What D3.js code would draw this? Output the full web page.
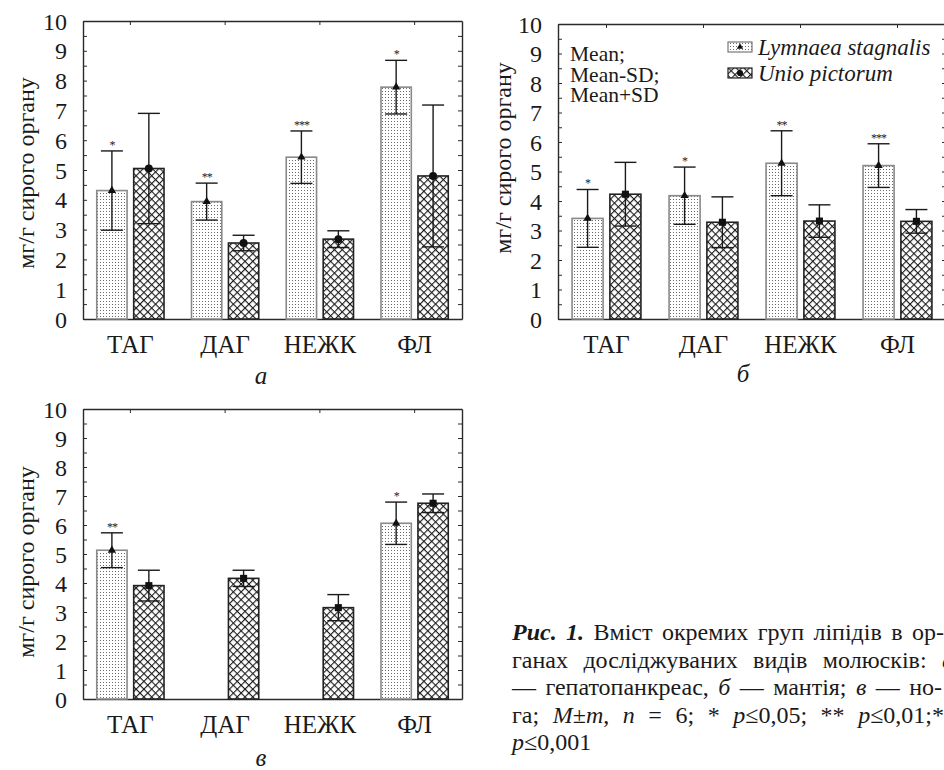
<!DOCTYPE html>
<html><head><meta charset="utf-8">
<script src="https://cdn.jsdelivr.net/npm/d3@7"></script>
<style>
html,body{margin:0;padding:0;background:#fff;}
</style></head>
<body>
<svg id="chart" width="944" height="770"></svg>
<script>
// ---------- data ----------
const categories = ["ТАГ", "ДАГ", "НЕЖК", "ФЛ"];
const yTickValues = [0, 1, 2, 3, 4, 5, 6, 7, 8, 9, 10];
const seriesNames = ["Lymnaea stagnalis", "Unio pictorum"];
const yLabel = "мг/г сирого органу";

// panel а — гепатопанкреас
const lymA = [4.31, 3.94, 5.43, 7.78];
const lymA_sd = [1.33, 0.62, 0.88, 0.90];
const unioA = [5.05, 2.55, 2.68, 4.80];
const unioA_sd = [1.85, 0.26, 0.28, 2.38];
const sigA = ["*", "**", "***", "*"];

// panel б — мантія
const lymB = [3.41, 4.18, 5.28, 5.20];
const lymB_sd = [0.98, 0.97, 1.10, 0.74];
const unioB = [4.23, 3.28, 3.32, 3.31];
const unioB_sd = [1.08, 0.86, 0.55, 0.40];
const sigB = ["*", "*", "**", "***"];

// panel в — нога
const lymC = [5.13, null, null, 6.06];
const lymC_sd = [0.60, null, null, 0.73];
const unioC = [3.91, 4.16, 3.15, 6.75];
const unioC_sd = [0.53, 0.28, 0.45, 0.32];
const sigC = ["**", "", "", "*"];

const legendLines = ["Mean;", "Mean-SD;", "Mean+SD"];

// ---------- drawing ----------
const FONT = '"Liberation Serif", "Times New Roman", serif';
const svg = d3.select("#chart");
const defs = svg.append("defs");

const dots = defs.append("pattern").attr("id", "dots")
  .attr("patternUnits", "userSpaceOnUse").attr("width", 3).attr("height", 3);
dots.append("rect").attr("width", 3).attr("height", 3).attr("fill", "#fff");
dots.append("rect").attr("x", 1).attr("y", 1).attr("width", 1).attr("height", 1).attr("fill", "#6a6a6a");

const hatch = defs.append("pattern").attr("id", "hatch")
  .attr("patternUnits", "userSpaceOnUse").attr("width", 5.5).attr("height", 5.5)
  .attr("patternTransform", "rotate(45)");
hatch.append("rect").attr("width", 5.5).attr("height", 5.5).attr("fill", "#fff");
hatch.append("line").attr("x1", 0).attr("y1", 0).attr("x2", 5.5).attr("y2", 0)
  .attr("stroke", "#1a1a1a").attr("stroke-width", 2.2);
hatch.append("line").attr("x1", 0).attr("y1", 0).attr("x2", 0).attr("y2", 5.5)
  .attr("stroke", "#1a1a1a").attr("stroke-width", 2.2);

const panels = [
  {box: [83, 462, 21, 319], lym: lymA, lymSd: lymA_sd, unio: unioA, unioSd: unioA_sd, sig: sigA,
   label: "а", labelPos: [261, 384], yLab: [26, 173], unioSym: d3.symbolCircle},
  {box: [558, 946, 24, 319], lym: lymB, lymSd: lymB_sd, unio: unioB, unioSd: unioB_sd, sig: sigB,
   label: "б", labelPos: [743, 382], yLab: [503, 158], unioSym: d3.symbolSquare, legend: true},
  {box: [83, 462, 409, 699], lym: lymC, lymSd: lymC_sd, unio: unioC, unioSd: unioC_sd, sig: sigC,
   label: "в", labelPos: [261, 766], yLab: [26, 562], unioSym: d3.symbolSquare}
];

const halfTicks = d3.range(0, 10.01, 0.5);

panels.forEach(p => {
  const [x0, x1, yt, yb] = p.box;
  const g = svg.append("g");
  const x = d3.scaleBand().domain(categories).range([x0, x1]).padding(0);
  const y = d3.scaleLinear().domain([0, 10]).range([yb, yt]);
  const bw = x.bandwidth();
  const barW = bw * 0.32;
  const off = bw * 0.195;

  const left = d3.axisLeft(y).tickValues(halfTicks).tickSizeInner(-4).tickSizeOuter(0).tickPadding(16)
    .tickFormat(d => yTickValues.includes(d) ? d : "");
  const gl = g.append("g").attr("transform", `translate(${x0},0)`).call(left);
  gl.attr("font-family", FONT);
  gl.selectAll("text").attr("font-family", FONT).style("font-family", FONT).style("font-size", "24px").attr("fill", "#1a1a1a").attr("dy", "0.34em");
  const right = d3.axisRight(y).tickValues(halfTicks).tickSizeInner(-4).tickSizeOuter(0).tickFormat("");
  g.append("g").attr("transform", `translate(${x1},0)`).call(right);
  const top = d3.axisTop(x).tickSizeInner(-4).tickSizeOuter(0).tickFormat("");
  g.append("g").attr("transform", `translate(0,${yt})`).call(top);
  const bottom = d3.axisBottom(x).tickSize(0).tickSizeOuter(0).tickPadding(16);
  const gb = g.append("g").attr("transform", `translate(0,${yb})`).call(bottom);
  gb.attr("font-family", FONT);
  gb.selectAll("text").attr("font-family", FONT).style("font-family", FONT).style("font-size", "25px").attr("fill", "#1a1a1a").attr("dy", "0.71em");
  g.selectAll(".domain").attr("stroke", "#2a2a2a").attr("stroke-width", 1.4);
  g.selectAll(".tick line").attr("stroke", "#2a2a2a").attr("stroke-width", 1);

  const groups = [
    {vals: p.lym, sds: p.lymSd, dx: -off, fill: "url(#dots)", stroke: "#8a8a8a", sym: d3.symbolTriangle, symSize: 30, sig: p.sig},
    {vals: p.unio, sds: p.unioSd, dx: off, fill: "url(#hatch)", stroke: "#222", sym: p.unioSym, symSize: 50, sig: null}
  ];
  groups.forEach(s => {
    const data = categories.map((c, i) => ({c, v: s.vals[i], sd: s.sds[i], sig: s.sig ? s.sig[i] : ""}))
      .filter(d => d.v !== null);
    const cx = d => x(d.c) + bw / 2 + s.dx;
    g.selectAll(null).data(data).enter().append("rect")
      .attr("x", d => cx(d) - barW / 2).attr("width", barW)
      .attr("y", d => y(d.v)).attr("height", d => yb - y(d.v))
      .attr("fill", s.fill).attr("stroke", s.stroke).attr("stroke-width", 1.6);
    g.selectAll(null).data(data).enter().append("line")
      .attr("x1", cx).attr("x2", cx)
      .attr("y1", d => y(d.v - d.sd)).attr("y2", d => y(d.v + d.sd))
      .attr("stroke", "#1a1a1a").attr("stroke-width", 1.4);
    [1, -1].forEach(sgn => {
      g.selectAll(null).data(data).enter().append("line")
        .attr("x1", d => cx(d) - 11).attr("x2", d => cx(d) + 11)
        .attr("y1", d => y(d.v + sgn * d.sd)).attr("y2", d => y(d.v + sgn * d.sd))
        .attr("stroke", "#1a1a1a").attr("stroke-width", 1.4);
    });
    g.selectAll(null).data(data).enter().append("path")
      .attr("d", d3.symbol().type(s.sym).size(s.symSize))
      .attr("transform", d => `translate(${cx(d)},${y(d.v)})`)
      .attr("fill", "#111");
    g.selectAll(null).data(data.filter(d => d.sig)).enter().append("text")
      .attr("x", cx).attr("y", d => y(d.v + d.sd) - 2)
      .attr("text-anchor", "middle").style("font-family", FONT).style("font-size", "12px")
      .attr("fill", "#222").attr("letter-spacing", -1)
      .text(d => d.sig);
  });

  svg.append("text").attr("transform", `translate(${p.yLab[0]},${p.yLab[1]}) rotate(-90)`)
    .attr("text-anchor", "middle").attr("dy", "0.35em").attr("fill", "#1a1a1a")
    .style("font-family", FONT).style("font-size", "24px").text(yLabel);
  svg.append("text").attr("x", p.labelPos[0]).attr("y", p.labelPos[1]).attr("text-anchor", "middle")
    .attr("fill", "#1a1a1a").style("font-family", FONT).style("font-size", "25px").style("font-style", "italic").text(p.label);

  if (p.legend) {
    legendLines.forEach((t, i) => {
      svg.append("text").attr("x", 570).attr("y", 61 + i * 20.5).attr("fill", "#1a1a1a")
        .style("font-family", FONT).style("font-size", "21.5px").text(t);
    });
    const items = [
      {name: seriesNames[0], fill: "url(#dots)", stroke: "#777", sym: d3.symbolTriangle, size: 18, y: 47},
      {name: seriesNames[1], fill: "url(#hatch)", stroke: "#222", sym: d3.symbolCircle, size: 30, y: 73}
    ];
    items.forEach(it => {
      svg.append("rect").attr("x", 728).attr("y", it.y - 5).attr("width", 24).attr("height", 10)
        .attr("fill", it.fill).attr("stroke", it.stroke).attr("stroke-width", 1.2);
      svg.append("path").attr("d", d3.symbol().type(it.sym).size(it.size))
        .attr("transform", `translate(740,${it.y})`).attr("fill", "#111");
      svg.append("text").attr("x", 758).attr("y", it.y + 8).attr("fill", "#1a1a1a")
        .style("font-family", FONT).style("font-size", "23px").style("font-style", "italic").text(it.name);
    });
  }
});

// caption (sized from line 1, other lines justified by word spacing)
const capX = 512, capY0 = 640, capDy = 27.5;
const capLines = [
  [["Рис. 1.", "bi"], [" Вміст окремих груп ліпідів в ор-", ""]],
  [["ганах досліджуваних видів молюсків: ", ""], ["а", "i"]],
  [["— гепатопанкреас, ", ""], ["б", "i"], [" — мантія; ", ""], ["в", "i"], [" — но-", ""]],
  [["га; ", ""], ["M", "i"], ["±", ""], ["m", "i"], [", ", ""], ["n", "i"], [" = 6; * ", ""], ["p", "i"], ["≤0,05; ** ", ""], ["p", "i"], ["≤0,01;***", ""]],
  [["p", "i"], ["≤0,001", ""]]
];
const capTarget = [432, 442, 430, 456, null];
function capText(parts, i, size) {
  const t = svg.append("text").attr("x", capX).attr("y", capY0 + i * capDy).attr("fill", "#1a1a1a")
    .style("font-family", FONT).style("font-size", size + "px");
  parts.forEach(([s, st]) => {
    const ts = t.append("tspan").text(s);
    if (st.includes("i")) ts.style("font-style", "italic");
    if (st.includes("b")) ts.style("font-weight", "bold");
  });
  return t;
}
const probe = capText(capLines[0], 0, 20);
const probeLen = probe.node().getComputedTextLength();
probe.remove();
const capSize = Math.min(24, 20 * (capTarget[0] - 8) / probeLen);
capLines.forEach((parts, i) => {
  const t = capText(parts, i, capSize);
  if (capTarget[i]) {
    const len = t.node().getComputedTextLength();
    const full = parts.map(d => d[0]).join("");
    const n = (full.match(/ /g) || []).length;
    const extra = Math.max(0, (capTarget[i] - len) / n);
    t.style("word-spacing", extra + "px");
  }
});
</script>
</body></html>
